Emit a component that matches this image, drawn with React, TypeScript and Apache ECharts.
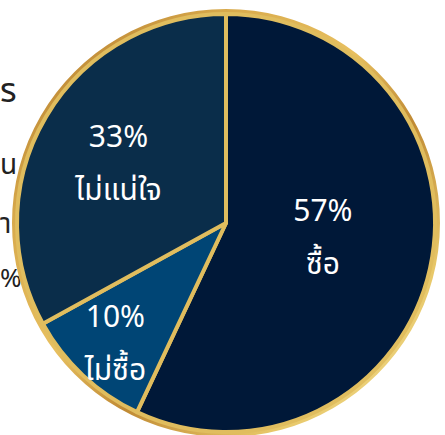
import React, { useEffect, useRef } from "react";
import * as echarts from "echarts";

const categories = ["ซื้อ", "ไม่ซื้อ", "ไม่แน่ใจ"];
const values = [57, 10, 33];
const sliceColors = ["#001838", "#004575", "#0a2d4a"];
const labelOffsets = [
  [-8, -8],
  [-37, 43],
  [-15, -4],
];
const sideFragments = ["ร", "น", "า", "%"];

export default function App() {
  const ref = useRef<HTMLDivElement>(null);
  useEffect(() => {
    document.body.style.margin = "0";
    const chart = echarts.init(ref.current!, null, { renderer: "svg" });
    const font = "'Noto Sans Thai', 'Leelawadee UI', Tahoma, 'Noto Sans', sans-serif";
    const ringGradient = new echarts.graphic.LinearGradient(0, 0, 1, 1, [
      { offset: 0, color: "#a86c22" },
      { offset: 0.25, color: "#d8aa4c" },
      { offset: 0.45, color: "#e8c060" },
      { offset: 0.6, color: "#c08a34" },
      { offset: 0.8, color: "#e8c869" },
      { offset: 1, color: "#f3e3a0" },
    ]);
    const frag = (text: string, y: number, size: number) => ({
      type: "text",
      x: 0,
      y,
      z: -1,
      style: { text, fill: "#222", align: "left", font: `${size}px ${font}` },
    });
    chart.setOption({
      animation: false,
      graphic: [
        frag(sideFragments[0], 74, 34),
        frag(sideFragments[1], 151, 28),
        frag(sideFragments[2], 210, 28),
        frag(sideFragments[3], 266, 26),
      ],
      series: [
        {
          type: "pie",
          center: [226, 223],
          radius: [209, 214],
          silent: true,
          label: { show: false },
          labelLine: { show: false },
          data: [{ value: 1, name: "ring", itemStyle: { color: ringGradient } }],
        },
        {
          type: "pie",
          center: [226, 223],
          radius: [0, 209],
          startAngle: 90,
          clockwise: true,
          itemStyle: { borderColor: "#e0bd5e", borderWidth: 4 },
          label: {
            show: true,
            position: "inside",
            color: "#ffffff",
            fontSize: 30,
            lineHeight: 53,
            fontFamily: font,
            formatter: (p: any) => `${p.value}%\n${p.name}`,
          },
          labelLine: { show: false },
          data: categories.map((name, i) => ({
            name,
            value: values[i],
            itemStyle: { color: sliceColors[i] },
            label: { offset: labelOffsets[i] },
          })),
        },
      ],
    });
    return () => chart.dispose();
  }, []);
  return <div ref={ref} style={{ width: 445, height: 435 }} />;
}
